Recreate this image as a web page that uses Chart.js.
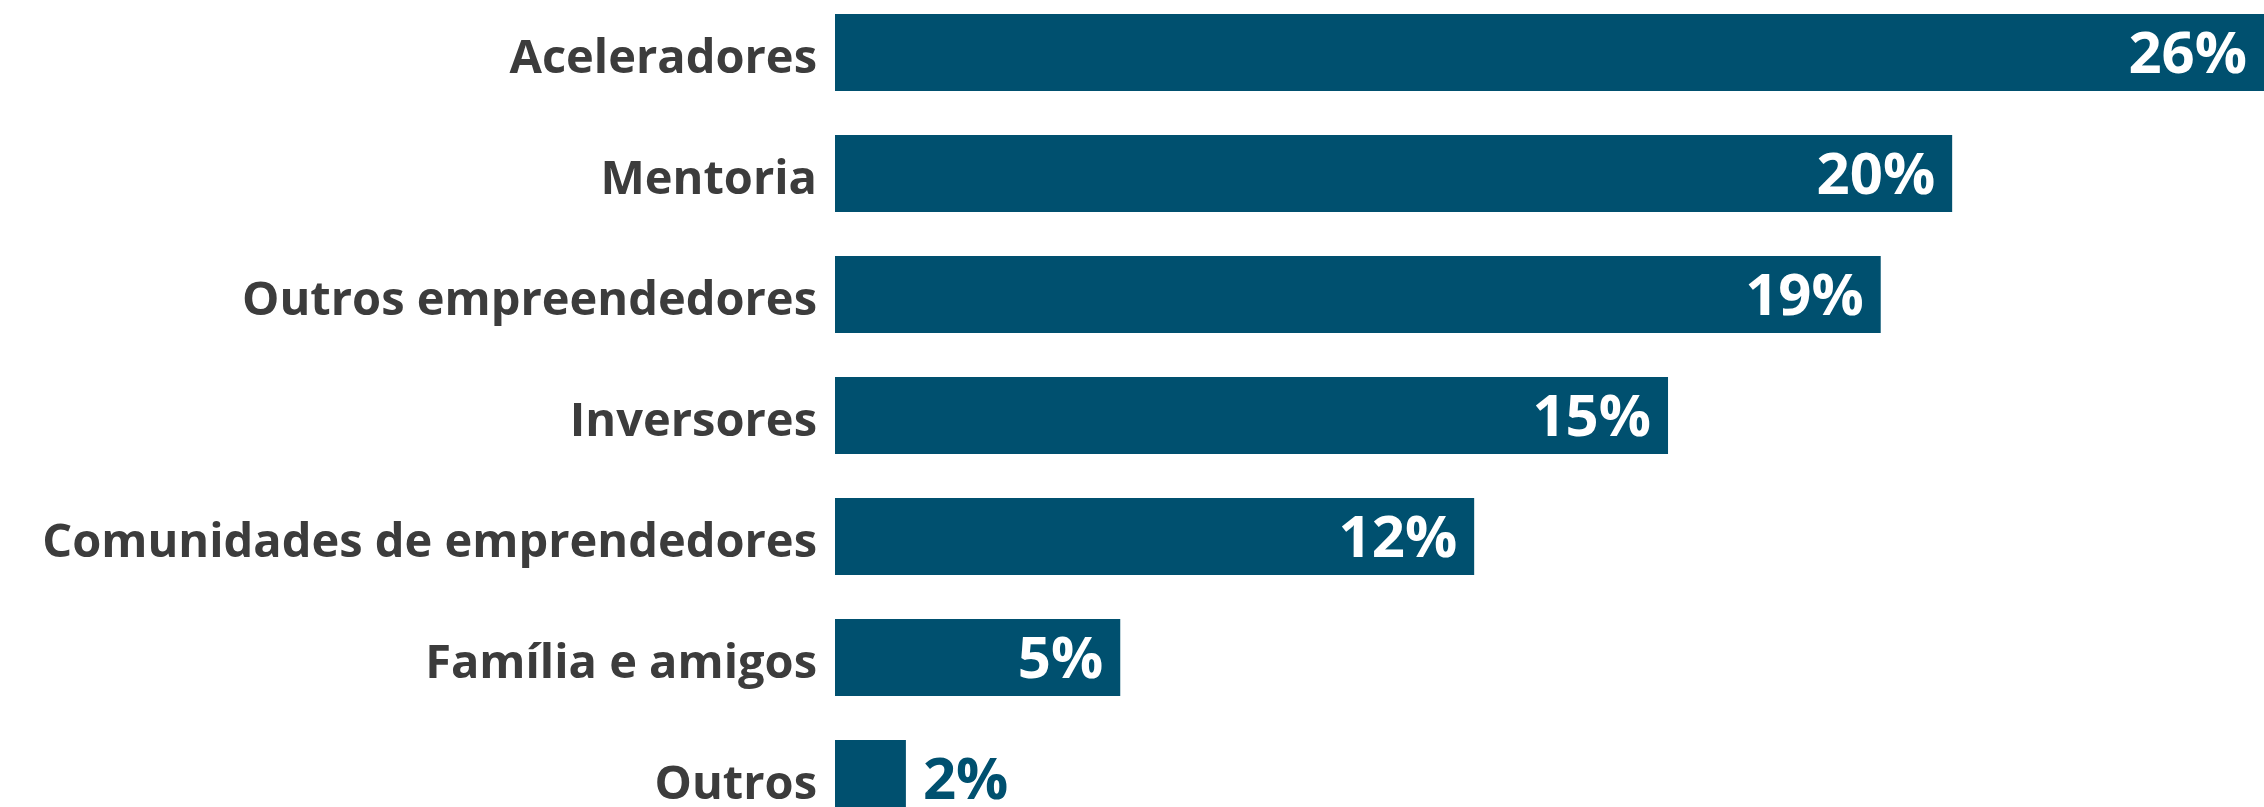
<!DOCTYPE html>
<html>
<head>
  <meta charset="UTF-8">
  <title>Apoio aos empreendedores</title>
  <script src="https://cdn.jsdelivr.net/npm/chart.js"></script>
  <style>
    html, body { margin: 0; padding: 0; background: #ffffff; overflow: hidden; }
    #wrap { position: relative; width: 2264px; height: 807px; overflow: hidden; }
    #chart { position: absolute; left: 0; top: -8px; }
  </style>
</head>
<body>
<div id="wrap">
  <canvas id="chart" width="2264" height="847"></canvas>
</div>

<script>
  // Categorias (eixo vertical)
  const categorias = [
    'Aceleradores',
    'Mentoria',
    'Outros empreendedores',
    'Inversores',
    'Comunidades de emprendedores',
    'Família e amigos',
    'Outros'
  ];

  // Comprimento das barras (em %)
  const valores = [25.8, 20.17, 18.88, 15.04, 11.54, 5.15, 1.28];

  // Rótulos mostrados nas barras
  const rotulos = ['26%', '20%', '19%', '15%', '12%', '5%', '2%'];

  const corBarra = '#00506f';
  const corTexto = '#3c3c3c';
  const fonte = '"Open Sans", "DejaVu Sans", sans-serif';

  // Plugin simples para escrever os valores nas barras
  const rotulosPlugin = {
    id: 'rotulos',
    afterDatasetsDraw(chart) {
      const ctx = chart.ctx;
      const meta = chart.getDatasetMeta(0);
      const tam = 58;
      ctx.save();
      ctx.font = '700 ' + tam + 'px ' + fonte;
      ctx.textBaseline = 'alphabetic';
      meta.data.forEach((bar, i) => {
        const y = bar.y + tam * 0.357;
        if (valores[i] > 3) {
          ctx.fillStyle = '#ffffff';
          ctx.textAlign = 'right';
          ctx.fillText(rotulos[i], bar.x - 17, y);
        } else {
          ctx.fillStyle = corBarra;
          ctx.textAlign = 'left';
          ctx.fillText(rotulos[i], bar.x + 17, y);
        }
      });
      ctx.restore();
    }
  };

  new Chart(document.getElementById('chart'), {
    type: 'bar',
    data: {
      labels: categorias,
      datasets: [{
        data: valores,
        backgroundColor: corBarra,
        borderWidth: 0,
        categoryPercentage: 1,
        barPercentage: 0.636
      }]
    },
    options: {
      indexAxis: 'y',
      responsive: false,
      animation: false,
      layout: { padding: 0 },
      plugins: {
        legend: { display: false },
        tooltip: { enabled: false }
      },
      scales: {
        x: {
          display: false,
          min: 0,
          max: 25.8
        },
        y: {
          grid: { display: false },
          border: { display: false },
          afterFit(scale) {
            // largura fixa do eixo e sem folga em cima/embaixo
            scale.width = 835;
            scale.paddingTop = 0;
            scale.paddingBottom = 0;
          },
          ticks: {
            padding: 10,
            labelOffset: 7,
            color: corTexto,
            font: { family: fonte, size: 47, weight: '700' }
          }
        }
      }
    },
    plugins: [rotulosPlugin]
  });
</script>
</body>
</html>
